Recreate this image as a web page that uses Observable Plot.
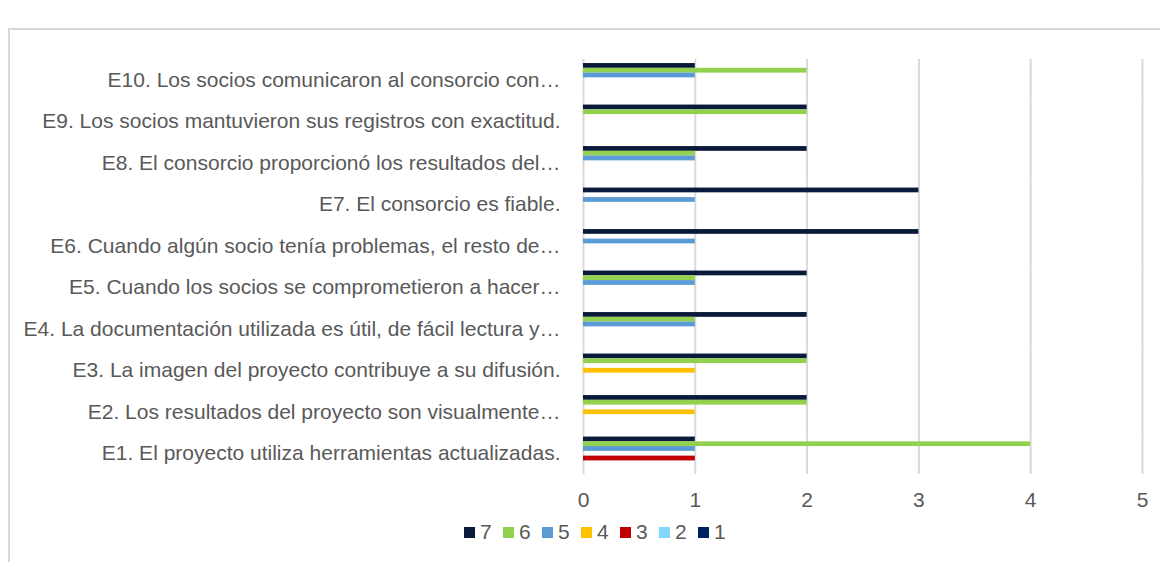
<!DOCTYPE html>
<html>
<head>
<meta charset="utf-8">
<script src="https://cdn.jsdelivr.net/npm/d3@7"></script>
<script src="https://cdn.jsdelivr.net/npm/@observablehq/plot@0.6"></script>
<style>
  html, body { margin: 0; padding: 0; background: #fff; }
  body { width: 1160px; height: 562px; position: relative; overflow: hidden; font-family: "Liberation Sans", Arial, sans-serif; }
  #frame { position: absolute; left: 8px; top: 28px; width: 1200px; height: 600px; border-left: 2px solid #d9d9d9; border-top: 2px solid #d9d9d9; box-sizing: border-box; }
  #chart { position: absolute; left: 0; top: 0; }
  #legend { position: absolute; top: 520px; left: 464px; display: flex; font-size: 21px; line-height: 24px; color: #595959; }
  #legend .item { display: flex; align-items: center; margin-right: 11.3px; }
  #legend .sw { width: 11px; height: 11px; margin-right: 5px; }
</style>
</head>
<body>
<div id="frame"></div>
<div id="chart"></div>
<div id="legend"></div>
<script>
const categories = [
  "E1. El proyecto utiliza herramientas actualizadas.",
  "E2. Los resultados del proyecto son visualmente…",
  "E3. La imagen del proyecto contribuye a su difusión.",
  "E4. La documentación utilizada es útil, de fácil lectura y…",
  "E5. Cuando los socios se comprometieron a hacer…",
  "E6. Cuando algún socio tenía problemas, el resto de…",
  "E7. El consorcio es fiable.",
  "E8. El consorcio proporcionó los resultados del…",
  "E9. Los socios mantuvieron sus registros con exactitud.",
  "E10. Los socios comunicaron al consorcio con…"
];
const seriesNames = ["7", "6", "5", "4", "3", "2", "1"];
const seriesColors = ["#0b1a3b", "#92d050", "#5b9bd5", "#ffc000", "#c00000", "#7fd8fc", "#002060"];
const s7 = [1, 2, 2, 2, 2, 3, 3, 2, 2, 1];
const s6 = [4, 2, 2, 1, 1, 0, 0, 1, 2, 2];
const s5 = [1, 0, 0, 1, 1, 1, 1, 1, 0, 1];
const s4 = [0, 1, 1, 0, 0, 0, 0, 0, 0, 0];
const s3 = [1, 0, 0, 0, 0, 0, 0, 0, 0, 0];
const s2 = [0, 0, 0, 0, 0, 0, 0, 0, 0, 0];
const s1 = [0, 0, 0, 0, 0, 0, 0, 0, 0, 0];
const xTicks = [0, 1, 2, 3, 4, 5];

const seriesValues = [s7, s6, s5, s4, s3, s2, s1];
const data = [];
seriesNames.forEach((s, si) => {
  categories.forEach((c, ci) => {
    const v = seriesValues[si][ci];
    if (v > 0) data.push({category: c, series: s, value: v});
  });
});

const plot = Plot.plot({
  width: 1160,
  height: 515,
  marginLeft: 583,
  marginRight: 18,
  marginTop: 59,
  marginBottom: 41,
  style: {fontFamily: "'Liberation Sans', Arial, sans-serif", fontSize: "21px", color: "#595959", background: "transparent"},
  x: {domain: [0, 5], ticks: xTicks, label: null},
  y: {domain: seriesNames, paddingInner: 0, paddingOuter: 0.85, round: false, axis: null},
  fy: {domain: categories.slice().reverse(), padding: 0, round: false, label: null},
  color: {domain: seriesNames, range: seriesColors},
  marks: [
    Plot.gridX(xTicks, {stroke: "#d9d9d9", strokeOpacity: 1, strokeWidth: 2}),
    Plot.barX(data, {x: "value", y: "series", fy: "category", fill: "series", insetTop: 0, insetBottom: 0}),
    Plot.axisX(xTicks, {tickSize: 0, tickPadding: 18, label: null, fill: "#595959", fontSize: 21}),
    Plot.axisFy({anchor: "left", tickSize: 0, tickPadding: 23, label: null, fill: "#595959", fontSize: 21})
  ]
});
document.getElementById("chart").appendChild(plot);

const legend = document.getElementById("legend");
seriesNames.forEach((s, i) => {
  const item = document.createElement("div");
  item.className = "item";
  const sw = document.createElement("span");
  sw.className = "sw";
  sw.style.background = seriesColors[i];
  const t = document.createElement("span");
  t.textContent = s;
  item.appendChild(sw);
  item.appendChild(t);
  legend.appendChild(item);
});
</script>
</body>
</html>
